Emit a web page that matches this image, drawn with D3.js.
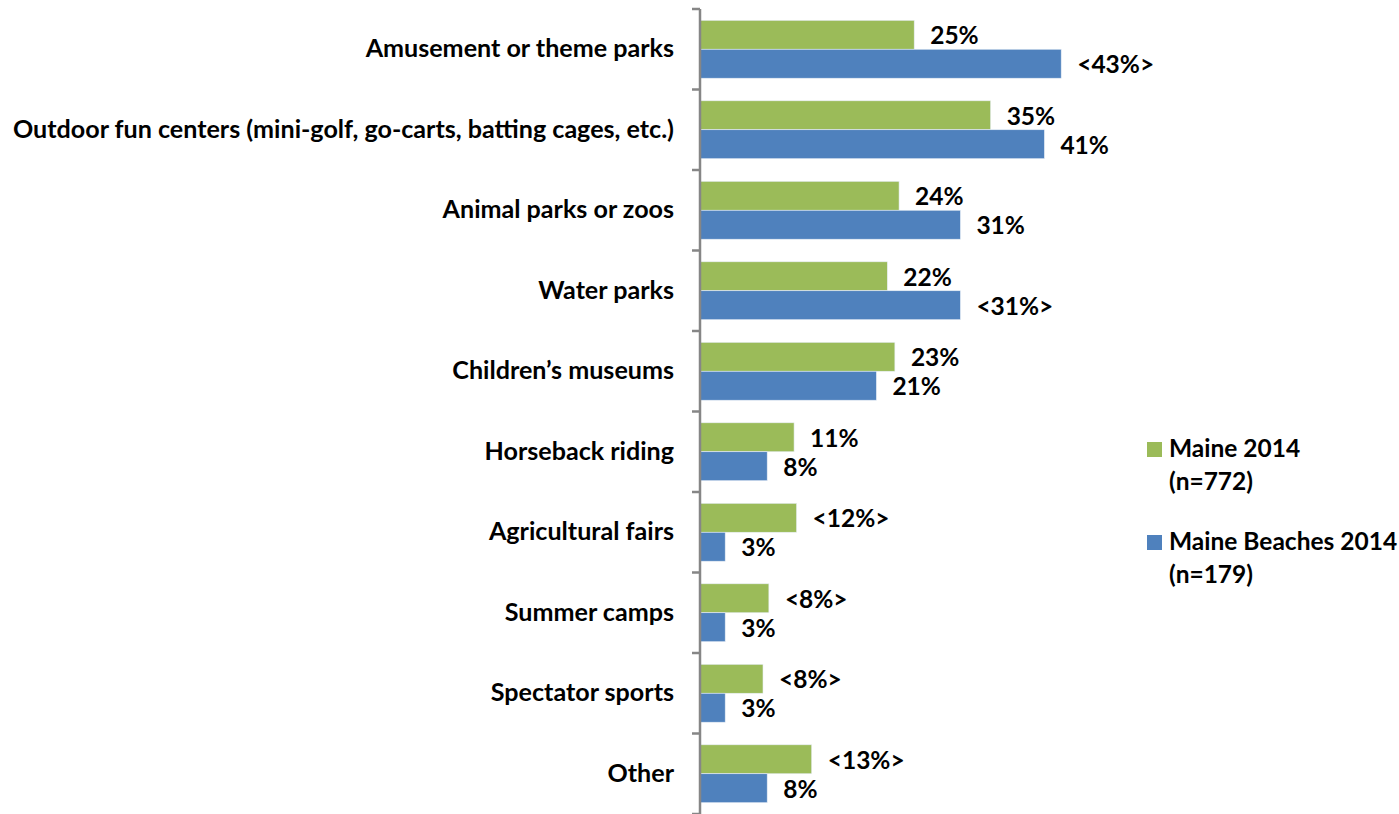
<!DOCTYPE html>
<meta charset="utf-8" />
<title>Attractions visited</title>
<style>
  body { margin: 0; background: #fff; }
  text {
    font-family: Lato, "Liberation Sans", sans-serif;
    font-weight: bold;
    fill: #000;
  }
</style>
<body>
  <svg width="1399" height="814"></svg>
  <script src="https://d3js.org/d3.v7.min.js"></script>
  <script>
    const width = 1399, height = 814;

    // categories, top to bottom
    const categories = [
      "Amusement or theme parks",
      "Outdoor fun centers (mini-golf, go-carts, batting cages, etc.)",
      "Animal parks or zoos",
      "Water parks",
      "Children\u2019s museums",
      "Horseback riding",
      "Agricultural fairs",
      "Summer camps",
      "Spectator sports",
      "Other"
    ];

    // series values
    const maine2014 = [25.5, 34.6, 23.7, 22.3, 23.2, 11.2, 11.5, 8.2, 7.5, 13.3];
    const beaches2014 = [43.0, 41.0, 31.0, 31.0, 21.0, 8.0, 3.0, 3.0, 3.0, 8.0];

    // labels as printed on the chart
    const maineLabels = ["25%", "35%", "24%", "22%", "23%", "11%", "<12%>", "<8%>", "<8%>", "<13%>"];
    const beachLabels = ["<43%>", "41%", "31%", "<31%>", "21%", "8%", "3%", "3%", "3%", "8%"];

    const seriesNames = ["Maine 2014", "Maine Beaches 2014"];
    const seriesN = ["(n=772)", "(n=179)"];
    const colors = ["#9BBB59", "#4F81BD"];

    const fontSize = 24.5;
    const svg = d3.select("svg");

    const x = d3.scaleLinear().domain([0, 50]).range([700, 1120]);
    const y = d3.scaleBand().domain(categories).range([9, 814]);
    const inner = d3.scaleBand().domain([0, 1]).range([0, y.bandwidth()]).paddingOuter(0.39);

    const rows = categories.map((c, i) => ({
      cat: c,
      vals: [maine2014[i], beaches2014[i]],
      labs: [maineLabels[i], beachLabels[i]]
    }));

    const g = svg.append("g");

    const row = g.selectAll("g.row")
      .data(rows)
      .join("g")
      .attr("class", "row")
      .attr("transform", d => `translate(0,${y(d.cat)})`);

    row.selectAll("rect")
      .data(d => d.vals.map((v, k) => ({ v, k })))
      .join("rect")
      .attr("x", x(0))
      .attr("y", d => inner(d.k))
      .attr("width", d => x(d.v) - x(0))
      .attr("height", inner.bandwidth())
      .attr("fill", d => colors[d.k])
      .attr("stroke", "#e8eef6")
      .attr("stroke-width", 0.6);

    row.selectAll("text.val")
      .data(d => d.vals.map((v, k) => ({ v, k, lab: d.labs[k] })))
      .join("text")
      .attr("class", "val")
      .attr("x", d => x(d.v) + 16)
      .attr("y", d => inner(d.k) + inner.bandwidth() / 2)
      .attr("dy", "0.38em")
      .attr("font-size", fontSize)
      .text(d => d.lab);

    // category axis
    const axis = d3.axisLeft(y).tickSize(8).tickPadding(18)
      .tickValues(categories);
    const ax = svg.append("g")
      .attr("transform", `translate(${x(0)},0)`)
      .call(axis);
    ax.select(".domain").attr("stroke", "#868686").attr("stroke-width", 2.5)
      .attr("d", `M0,${y.range()[0]}V${y.range()[1]}`);
    ax.selectAll(".tick line").remove();
    ax.selectAll(".tick text")
      .attr("font-size", 25.1)
      .attr("font-family", "Lato, sans-serif")
      .attr("font-weight", "bold")
      .attr("fill", "#000");

    // tick marks at band boundaries
    const bounds = categories.map(c => y(c)).concat([y.range()[1]]);
    ax.selectAll("line.bound")
      .data(bounds)
      .join("line")
      .attr("class", "bound")
      .attr("x1", -8).attr("x2", 0)
      .attr("y1", d => d).attr("y2", d => d)
      .attr("stroke", "#868686")
      .attr("stroke-width", 2.5);

    // legend
    const legend = svg.append("g").attr("transform", "translate(1147,442)");
    const item = legend.selectAll("g")
      .data(seriesNames)
      .join("g")
      .attr("transform", (d, i) => `translate(0,${i * 93})`);
    item.append("rect")
      .attr("width", 15).attr("height", 15)
      .attr("fill", (d, i) => colors[i]);
    item.append("text")
      .attr("x", 22).attr("y", 15)
      .attr("font-size", fontSize)
      .text(d => d);
    item.append("text")
      .attr("x", 22).attr("y", 48)
      .attr("font-size", fontSize)
      .text((d, i) => seriesN[i]);
  </script>
</body>
